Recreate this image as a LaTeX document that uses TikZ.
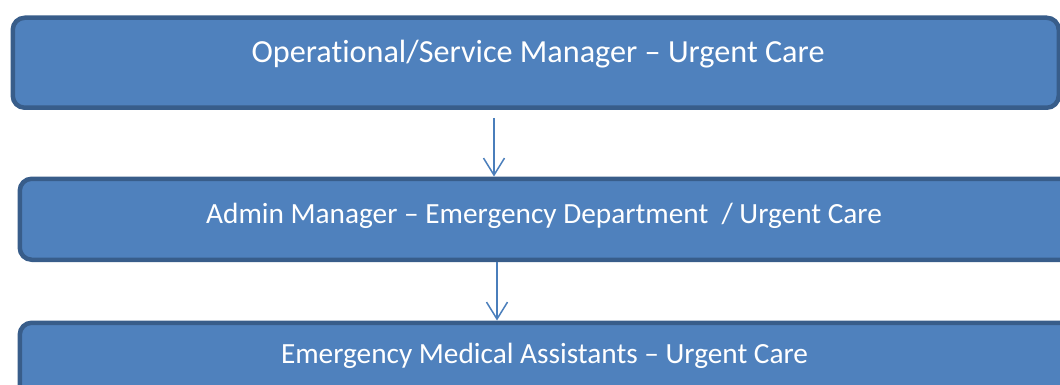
\documentclass[tikz,border=0pt]{standalone}
\usepackage{fontspec}
\setmainfont[Ligatures=NoCommon]{Carlito}
\usetikzlibrary{arrows.meta}
\definecolor{boxfill}{HTML}{4F81BD}
\definecolor{boxline}{HTML}{385D8A}
\definecolor{arrowcol}{HTML}{4A7EBB}
\tikzset{
  orgbox/.style={draw=boxline, fill=boxfill, line width=4.5pt, rounded corners=12pt, inner sep=0pt, anchor=north west},
  orgtext/.style={text=white, inner sep=0pt, anchor=base},
  orgarrow/.style={draw=arrowcol, line width=1.5pt, -{Straight Barb[length=17pt,width=21pt,line width=1.5pt]}}
}
\begin{document}
\begin{tikzpicture}[x=1pt,y=-1pt]
\useasboundingbox (0,0) rectangle (1060,385);
\clip (0,0) rectangle (1060,385);
\node[orgbox, minimum width=1046pt, minimum height=90pt] (b1) at (10.5,15.5) {};
\node[orgbox, minimum width=1080pt, minimum height=81pt] (b2) at (17.5,176.5) {};
\node[orgbox, minimum width=1080pt, minimum height=90pt] (b3) at (17.5,320.5) {};
\node[orgtext, font=\fontsize{32.2}{36}\selectfont] (t1) at (538,63) {Operational/Service Manager – Urgent Care};
\node[orgtext, font=\fontsize{29.3}{33}\selectfont] (t2) at (544,223) {Admin Manager – Emergency Department \ / Urgent Care};
\node[orgtext, font=\fontsize{29.3}{33}\selectfont] (t3) at (544.5,363) {Emergency Medical Assistants – Urgent Care};
\coordinate (a1s) at (494,118);
\draw[orgarrow] (a1s) -- (a1s |- b2.north);
\draw[orgarrow] ([xshift=3pt]a1s |- b2.south) -- ([xshift=3pt]a1s |- b3.north);
\end{tikzpicture}
\end{document}
